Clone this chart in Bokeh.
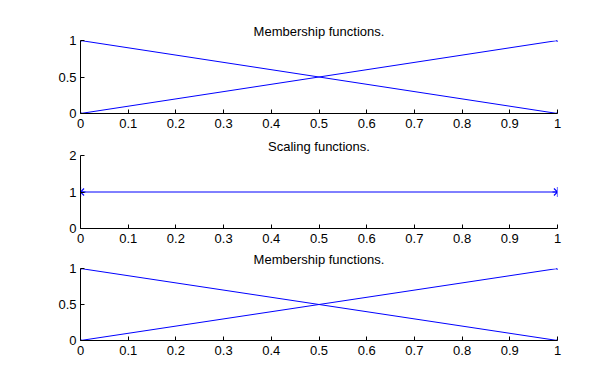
from bokeh.plotting import figure
from bokeh.layouts import column
from bokeh.models import Range1d, FixedTicker
from bokeh.embed import file_html
from bokeh.resources import INLINE

x = [0, 1]
mf_down = [1, 0]
mf_up = [0, 1]
scale_x = [0, 1]
scale_y = [1, 1]
x_ticks = [0, 0.1, 0.2, 0.3, 0.4, 0.5, 0.6, 0.7, 0.8, 0.9, 1]
mf_yticks = [0, 0.5, 1]
sc_yticks = [0, 1, 2]

FONT = "Liberation Sans"
BLUE = "#0000ff"


def make_fig(title, ymax, yticks, top, bottom, fh):
    p = figure(frame_width=477, frame_height=fh, output_backend="svg",
               toolbar_location=None, x_range=Range1d(0, 1),
               y_range=Range1d(0, ymax), title=title,
               min_border_left=80, min_border_right=56,
               min_border_top=top, min_border_bottom=bottom)
    p.title.align = "center"
    p.title.text_font = FONT
    p.title.text_font_style = "normal"
    p.title.text_font_size = "13px"
    p.title.text_color = "black"
    p.title.standoff = 3
    p.outline_line_color = None
    p.grid.visible = False
    p.background_fill_color = "white"
    p.border_fill_color = "white"
    for ax, ticks in ((p.xaxis[0], x_ticks), (p.yaxis[0], yticks)):
        ax.ticker = FixedTicker(ticks=ticks)
        ax.minor_tick_line_color = None
        ax.major_tick_in = 4
        ax.major_tick_out = 0
        ax.axis_line_color = "black"
        ax.major_tick_line_color = "black"
        ax.major_label_text_font = FONT
        ax.major_label_text_font_size = "13px"
        ax.major_label_text_color = "black"
    p.xaxis.major_label_standoff = 5
    p.yaxis.major_label_standoff = 4
    return p


p1 = make_fig("Membership functions.", 1, mf_yticks, 40, 22, 73)
p1.line(x, mf_down, color=BLUE, line_width=1)
p1.line(x, mf_up, color=BLUE, line_width=1)
p1.scatter(x, mf_down, color=BLUE, size=2)
p1.scatter(x, mf_up, color=BLUE, size=2)

p2 = make_fig("Scaling functions.", 2, sc_yticks, 10, 20, 73)
p2.line(scale_x, scale_y, color=BLUE, line_width=1)
p2.scatter(scale_x, scale_y, marker="asterisk", color=BLUE, size=10, line_width=1.2)

p3 = make_fig("Membership functions.", 1, mf_yticks, 10, 42, 72)
p3.line(x, mf_down, color=BLUE, line_width=1)
p3.line(x, mf_up, color=BLUE, line_width=1)
p3.scatter(x, mf_down, color=BLUE, size=2)
p3.scatter(x, mf_up, color=BLUE, size=2)

layout = column(p1, p2, p3, spacing=0)
open("out.html", "w").write(file_html(layout, INLINE))
